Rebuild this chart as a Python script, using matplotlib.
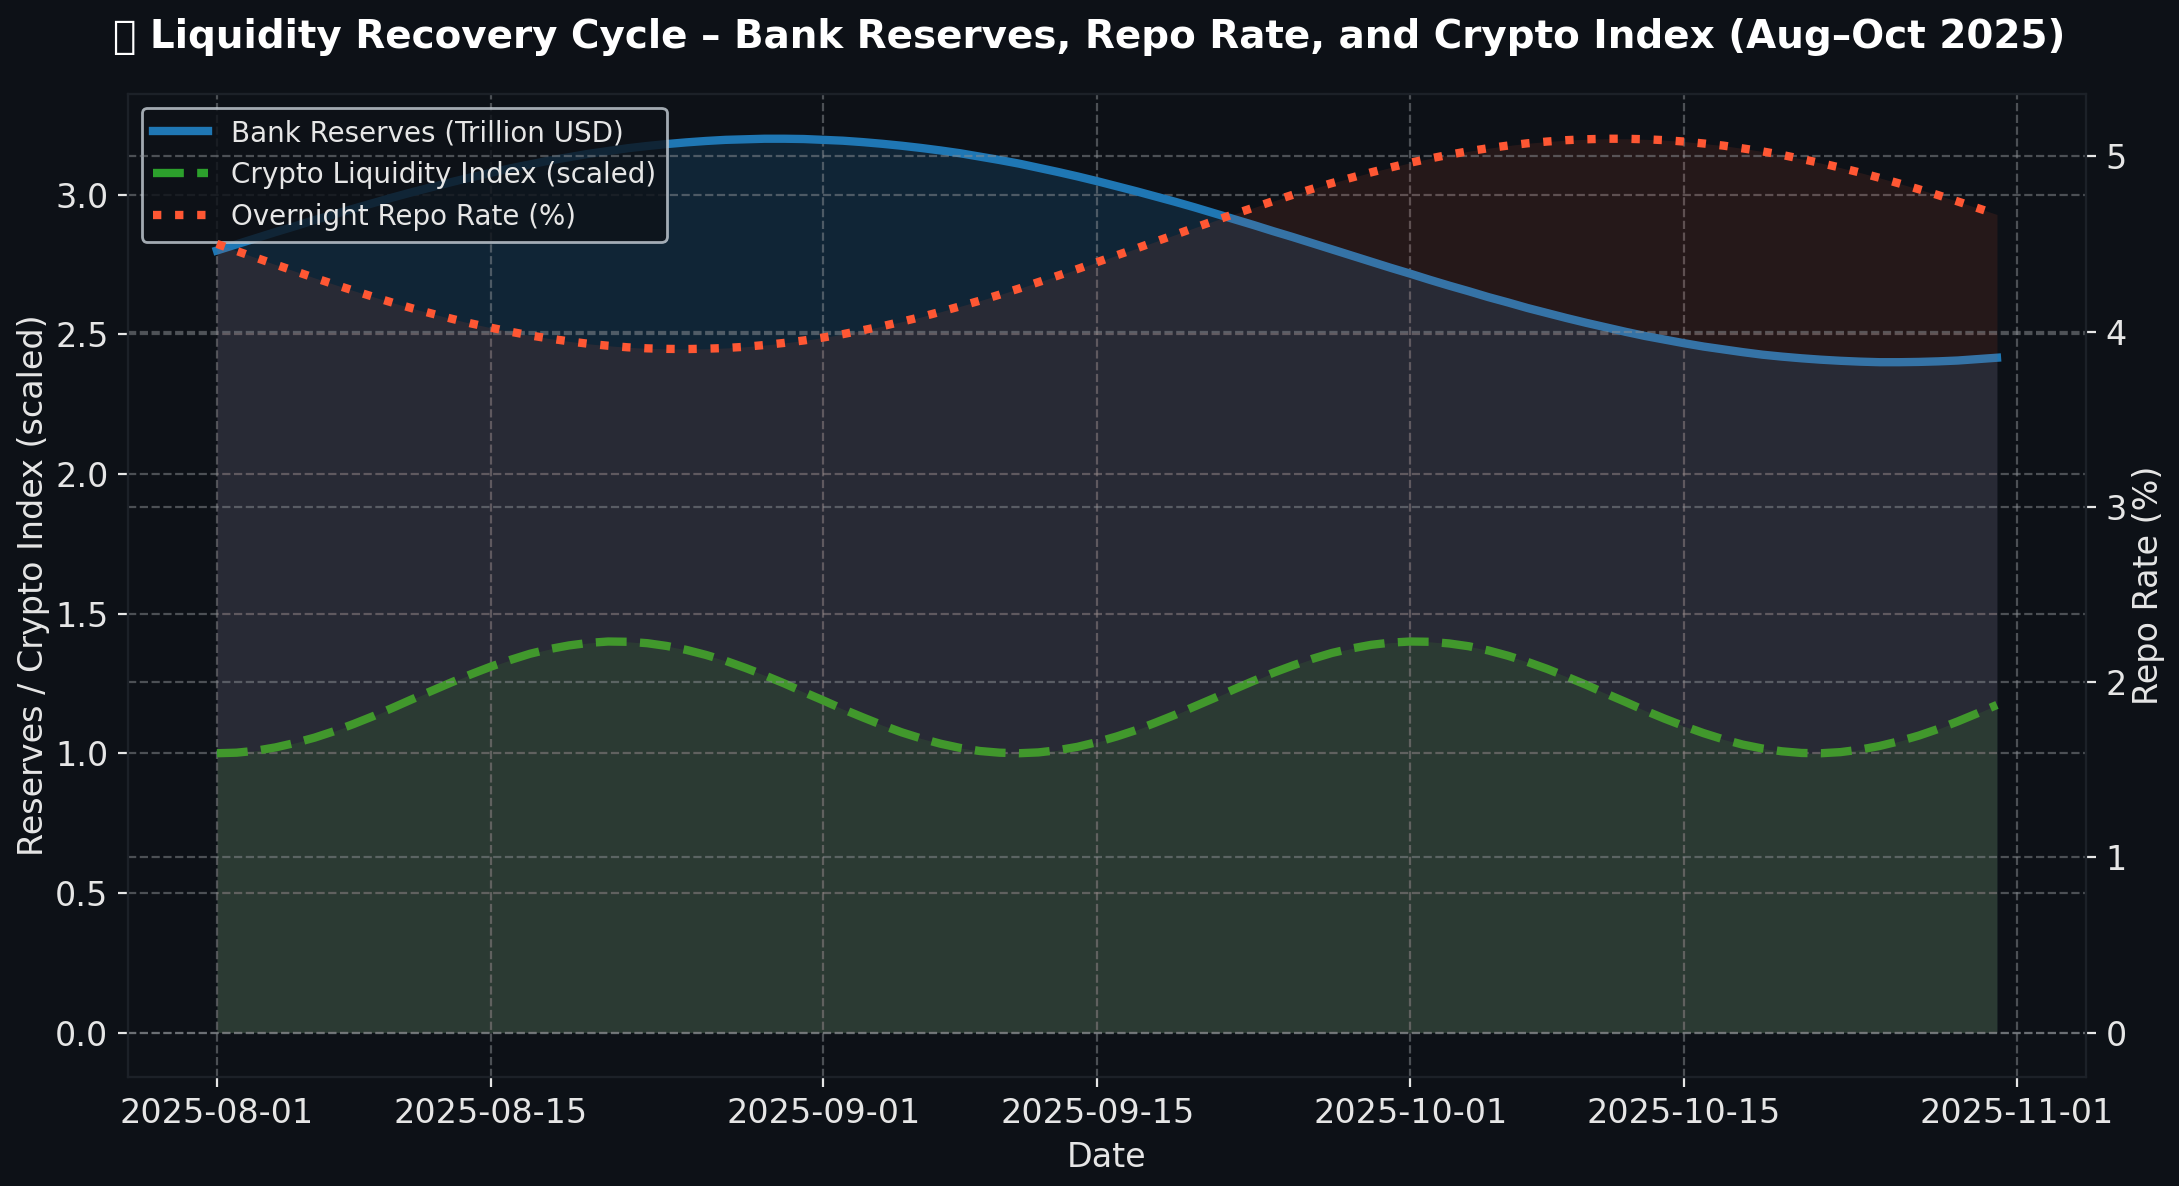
import pandas as pd
import matplotlib
matplotlib.use('Agg')
import matplotlib.pyplot as plt
import matplotlib.dates as mdates

start_date = '2025-08-01'
end_date = '2025-10-31'

reserves = [2.800, 2.822, 2.844, 2.866, 2.887, 2.909, 2.929, 2.950, 2.970, 2.990, 3.009, 3.027, 3.045, 3.062,
            3.078, 3.094, 3.108, 3.122, 3.134, 3.146, 3.156, 3.166, 3.174, 3.181, 3.187, 3.192, 3.196, 3.198,
            3.200, 3.200, 3.199, 3.196, 3.193, 3.188, 3.182, 3.175, 3.167, 3.158, 3.148, 3.136, 3.124, 3.111,
            3.096, 3.081, 3.065, 3.048, 3.030, 3.012, 2.993, 2.974, 2.954, 2.933, 2.912, 2.891, 2.869, 2.848,
            2.826, 2.804, 2.782, 2.760, 2.738, 2.717, 2.695, 2.674, 2.654, 2.633, 2.614, 2.594, 2.576, 2.558,
            2.541, 2.525, 2.509, 2.494, 2.481, 2.468, 2.456, 2.446, 2.436, 2.427, 2.420, 2.414, 2.409, 2.405,
            2.402, 2.400, 2.400, 2.401, 2.403, 2.406, 2.411, 2.416]

crypto = [1.000, 1.002, 1.009, 1.021, 1.037, 1.056, 1.079, 1.105, 1.133, 1.163, 1.194, 1.224, 1.254, 1.283,
          1.310, 1.334, 1.356, 1.373, 1.386, 1.395, 1.400, 1.399, 1.394, 1.384, 1.370, 1.352, 1.331, 1.306,
          1.279, 1.250, 1.219, 1.189, 1.158, 1.129, 1.101, 1.075, 1.053, 1.034, 1.019, 1.008, 1.002, 1.000,
          1.003, 1.011, 1.023, 1.040, 1.060, 1.083, 1.110, 1.138, 1.168, 1.198, 1.229, 1.259, 1.288, 1.314,
          1.338, 1.359, 1.375, 1.388, 1.396, 1.400, 1.399, 1.393, 1.383, 1.368, 1.349, 1.327, 1.302, 1.274,
          1.245, 1.214, 1.184, 1.153, 1.124, 1.097, 1.072, 1.050, 1.031, 1.017, 1.007, 1.001, 1.000, 1.004,
          1.013, 1.026, 1.043, 1.063, 1.087, 1.114, 1.143, 1.173]

repo = [4.500, 4.460, 4.421, 4.382, 4.344, 4.306, 4.269, 4.233, 4.198, 4.164, 4.132, 4.102, 4.073, 4.046,
        4.022, 3.999, 3.978, 3.960, 3.944, 3.930, 3.919, 3.910, 3.904, 3.901, 3.900, 3.902, 3.906, 3.913,
        3.923, 3.935, 3.949, 3.966, 3.985, 4.007, 4.030, 4.056, 4.083, 4.113, 4.144, 4.176, 4.210, 4.245,
        4.282, 4.319, 4.357, 4.396, 4.435, 4.474, 4.514, 4.553, 4.593, 4.632, 4.670, 4.707, 4.744, 4.780,
        4.814, 4.847, 4.878, 4.908, 4.936, 4.963, 4.987, 5.009, 5.029, 5.046, 5.061, 5.074, 5.084, 5.092,
        5.097, 5.100, 5.100, 5.097, 5.092, 5.084, 5.073, 5.061, 5.045, 5.028, 5.008, 4.985, 4.961, 4.935,
        4.907, 4.877, 4.845, 4.812, 4.778, 4.742, 4.705, 4.668]

labels = ['Bank Reserves (Trillion USD)', 'Crypto Liquidity Index (scaled)', 'Overnight Repo Rate (%)']
title = '\U0001F4A7 Liquidity Recovery Cycle \u2013 Bank Reserves, Repo Rate, and Crypto Index (Aug\u2013Oct 2025)'

dates = pd.date_range(start_date, end_date, freq='D')

BG = '#0d1117'
FG = '#e6e6e6'
fig = plt.figure(figsize=(2179 / 200, 1186 / 200), dpi=200, facecolor=BG)
ax = fig.add_axes([0.0587, 0.0917, 0.8986, 0.829], facecolor=BG)
ax2 = ax.twinx()

ax.fill_between(dates, reserves, color='#1f77b4', alpha=0.2, lw=0)
ax.fill_between(dates, crypto, color='#2ca02c', alpha=0.15, lw=0)
l1, = ax.plot(dates, reserves, color='#1f77b4', lw=3, label=labels[0])
l2, = ax.plot(dates, crypto, '--', color='#2ca02c', lw=3, label=labels[1])
ax2.fill_between(dates, repo, color='#ff5733', alpha=0.1, lw=0)
l3, = ax2.plot(dates, repo, ':', color='#ff5733', lw=3, label=labels[2])

for a in (ax, ax2):
    a.grid(True, ls='--', color='#8b8f94', alpha=0.5, lw=0.8)
    a.tick_params(colors=FG, labelsize=12)
    for s in a.spines.values():
        s.set_color('#1c2128')

ax.xaxis.set_major_locator(mdates.DayLocator(bymonthday=[1, 15]))
ax.xaxis.set_major_formatter(mdates.DateFormatter('%Y-%m-%d'))
ax.set_xlabel('Date', fontsize=12, color=FG)
ax.set_ylabel('Reserves / Crypto Index (scaled)', fontsize=12, color=FG, labelpad=2)
ax2.set_ylabel('Repo Rate (%)', fontsize=12, color=FG, labelpad=2)

leg = ax.legend([l1, l2, l3], labels, loc='upper left', fontsize=10,
                facecolor=BG, edgecolor='#c9d1d9', framealpha=0.8)
for tx in leg.get_texts():
    tx.set_color(FG)

fig.suptitle(title, fontsize=14, fontweight='bold', color='white', y=0.985, va='top')

fig.savefig('out.png', dpi=200, facecolor=BG)
